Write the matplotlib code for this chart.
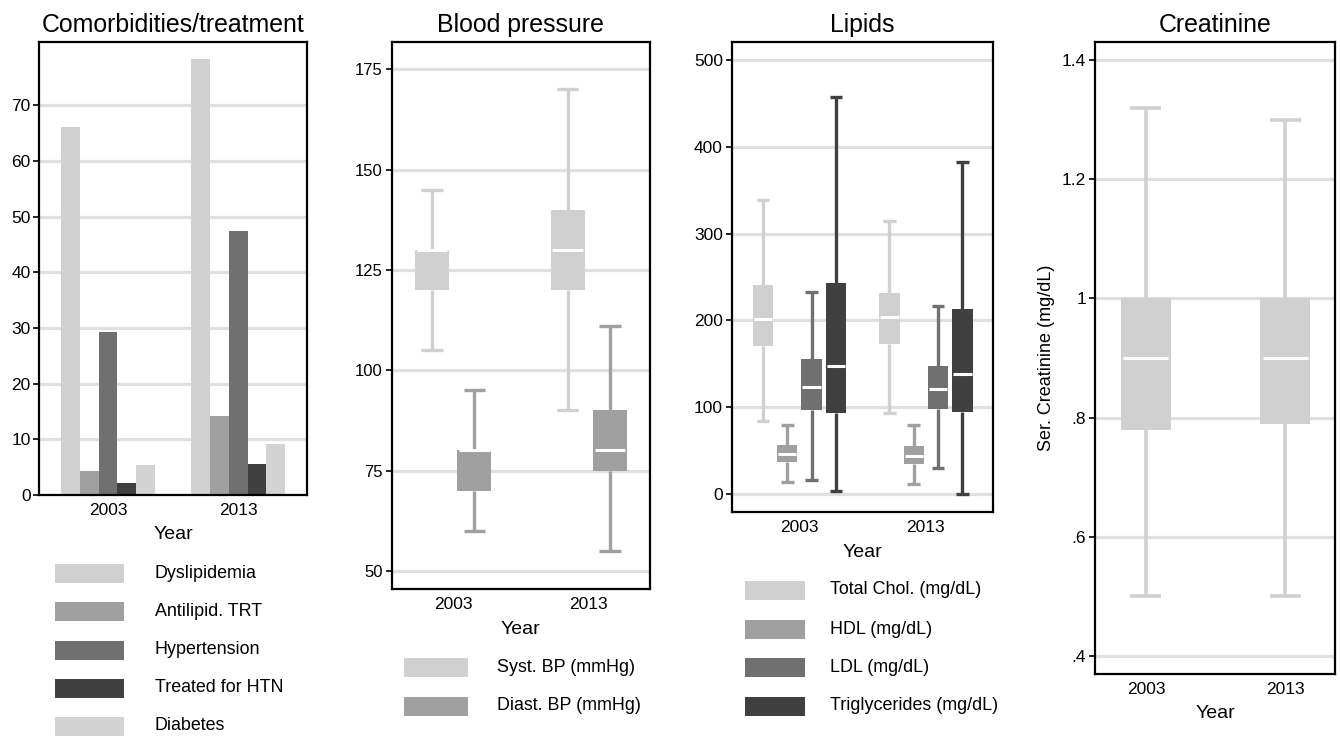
import matplotlib
matplotlib.use("Agg")
import matplotlib.pyplot as plt
from matplotlib.patches import Rectangle

plt.rcParams["font.family"] = ["Liberation Sans", "DejaVu Sans"]

# ---------------- data ----------------
years = ["2003", "2013"]

comorb_labels = ["Dyslipidemia", "Antilipid. TRT", "Hypertension", "Treated for HTN", "Diabetes"]
comorb_2003 = [66.1, 4.3, 29.3, 2.1, 5.4]
comorb_2013 = [78.3, 14.1, 47.4, 5.6, 9.1]
comorb_colors = ["#d0d0d0", "#a0a0a0", "#707070", "#404040", "#d3d3d3"]

# box statistics per year: (lower whisker, Q1, median, Q3, upper whisker)
bp_labels = ["Syst. BP (mmHg)", "Diast. BP (mmHg)"]
syst_bp = [(105, 120, 130, 130, 145), (90, 120, 130, 140, 170)]
diast_bp = [(60, 70, 80, 80, 95), (55, 75, 80, 90, 111)]
bp_colors = ["#d0d0d0", "#a0a0a0"]

lipid_labels = ["Total Chol. (mg/dL)", "HDL (mg/dL)", "LDL (mg/dL)", "Triglycerides (mg/dL)"]
total_chol = [(84, 171, 202, 241, 339), (93, 173, 204, 232, 314)]
hdl = [(14, 37, 46, 56, 79), (11, 34, 44, 55, 80)]
ldl = [(16, 97, 123, 155, 233), (30, 98, 121, 147, 216)]
trig = [(3, 93, 148, 243, 457), (0, 94, 138, 213, 382)]
lipid_colors = ["#d0d0d0", "#a0a0a0", "#707070", "#404040"]

creatinine = [(0.50, 0.78, 0.90, 1.00, 1.32), (0.50, 0.79, 0.90, 1.00, 1.30)]
creat_color = "#d0d0d0"

# ---------------- figure ----------------
W, H = 1340, 736
fig = plt.figure(figsize=(W / 100, H / 100), dpi=100)


def axes_px(left, top, right, bottom):
    return fig.add_axes([left / W, 1 - bottom / H, (right - left) / W, (bottom - top) / H])


def style(ax, title, xlim, ylim, yticks, yticklabels=None, ytick_size=12.5):
    ax.set_xlim(*xlim)
    ax.set_ylim(*ylim)
    ax.set_xticks([0, 1])
    ax.set_xticklabels(years)
    ax.set_yticks(yticks)
    if yticklabels is not None:
        ax.set_yticklabels(yticklabels)
    ax.tick_params(axis="x", length=0, pad=5.5, labelsize=12.5)
    ax.tick_params(axis="y", length=4.3, width=1.2, pad=2, labelsize=ytick_size)
    ax.yaxis.grid(True, color="#e0e0e0", lw=2.3)
    ax.set_axisbelow(True)
    for s in ax.spines.values():
        s.set_linewidth(1.6)
    ax.set_title(title, fontsize=17.9, pad=7)
    ax.set_xlabel("Year", fontsize=14, labelpad=6.3)


def draw_box(ax, x, stats, width, capw, color, lw=2.4):
    lo, q1, med, q3, hi = stats
    ax.vlines(x, q3, hi, color=color, lw=lw, zorder=2)
    ax.vlines(x, lo, q1, color=color, lw=lw, zorder=2)
    ax.hlines([lo, hi], x - capw / 2, x + capw / 2, color=color, lw=lw, zorder=2)
    ax.bar(x, q3 - q1, bottom=q1, width=width, color=color, lw=0, zorder=3)
    ax.hlines(med, x - 0.45 * width, x + 0.45 * width, color="white", lw=2.2, zorder=4)


def legend_px(x0, w, rows, labels, colors, text_x, h=19, size=12.9):
    for yc, lab, col in zip(rows, labels, colors):
        fig.add_artist(Rectangle((x0 / W, 1 - (yc + h / 2) / H), w / W, h / H,
                                 transform=fig.transFigure, color=col, lw=0))
        fig.text(text_x / W, 1 - yc / H, lab, ha="left", va="center", fontsize=size)


# Panel 1: comorbidities / treatment (grouped bars)
ax1 = axes_px(39.3, 41.7, 306.7, 495)
bw = 0.1443
for i, (lab, col) in enumerate(zip(comorb_labels, comorb_colors)):
    vals = [comorb_2003[i], comorb_2013[i]]
    ax1.bar([0 + (i - 2) * bw, 1 + (i - 2) * bw], vals, width=bw, color=col, lw=0)
style(ax1, "Comorbidities/treatment", (-0.527, 1.525), (0, 81.4), range(0, 80, 10))
legend_px(55, 69, [573, 611, 650, 688, 726], comorb_labels, comorb_colors, 155)

# Panel 2: blood pressure
ax2 = axes_px(391.7, 41.7, 650, 589.3)
for series, col, off in zip([syst_bp, diast_bp], bp_colors, [-0.156, 0.156]):
    for j, st in enumerate(series):
        draw_box(ax2, j + off, st, 0.25, 0.157, col)
style(ax2, "Blood pressure", (-0.452, 1.45), (45.4, 181.9), range(50, 200, 25), ytick_size=12)
legend_px(404, 64, [667, 706], bp_labels, bp_colors, 497)

# Panel 3: lipids
ax3 = axes_px(731.7, 41.7, 993.3, 512.3)
for k, (series, col) in enumerate(zip([total_chol, hdl, ldl, trig], lipid_colors)):
    off = (k - 1.5) * 0.1925
    for j, st in enumerate(series):
        draw_box(ax3, j + off, st, 0.161, 0.099, col)
style(ax3, "Lipids", (-0.536, 1.533), (-21.1, 521), range(0, 600, 100), ytick_size=12.5)
legend_px(745, 60, [590, 629, 667, 706], lipid_labels, lipid_colors, 830)

# Panel 4: creatinine
ax4 = axes_px(1095, 41.7, 1335, 674)
for j, st in enumerate(creatinine):
    draw_box(ax4, j, st, 0.358, 0.222, creat_color, lw=2.6)
style(ax4, "Creatinine", (-0.365, 1.355), (0.3698, 1.4307),
      [0.4, 0.6, 0.8, 1.0, 1.2, 1.4], [".4", ".6", ".8", "1", "1.2", "1.4"], ytick_size=12.5)
ax4.set_ylabel("Ser. Creatinine (mg/dL)", fontsize=13, labelpad=5)

fig.savefig("out.png", dpi=100)
